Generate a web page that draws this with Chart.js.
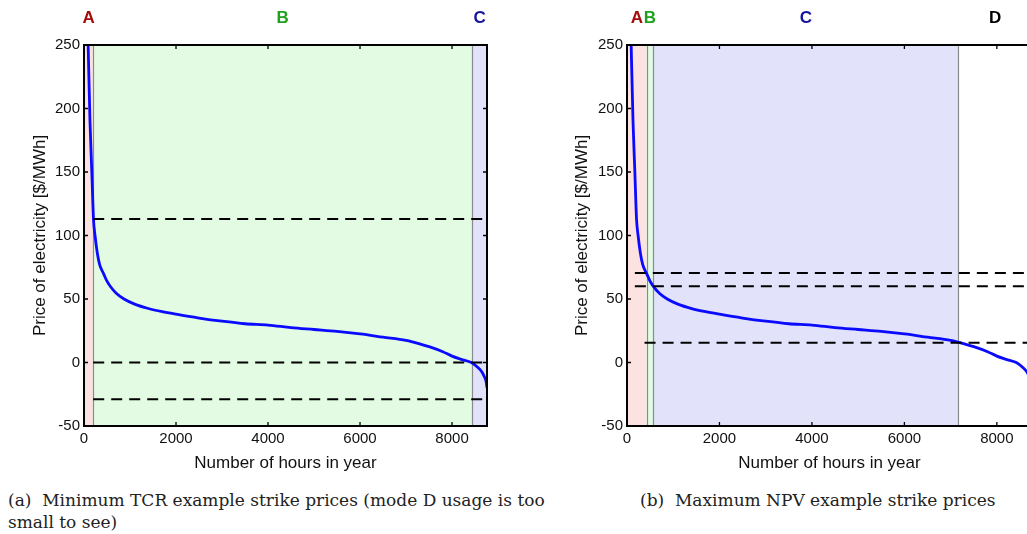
<!DOCTYPE html>
<html>
<head>
<meta charset="utf-8">
<script src="https://cdn.jsdelivr.net/npm/chart.js@4.4.1/dist/chart.umd.min.js"></script>
<style>
  html, body { margin:0; padding:0; background:#fff; }
  body { width:1027px; height:534px; overflow:hidden; position:relative; }
  .wrap { position:absolute; top:0; height:480px; }
  #w1 { left:0; width:520px; }
  #w2 { left:520px; width:520px; }
  .cap { position:absolute; font-family:"DejaVu Serif", serif; font-size:17px; color:#222; line-height:22px; white-space:nowrap; }
</style>
</head>
<body>
<div class="wrap" id="w1"><canvas id="c1"></canvas></div>
<div class="wrap" id="w2"><canvas id="c2"></canvas></div>
<div class="cap" id="capA" style="left:8px; top:489px;">(a)&nbsp; Minimum TCR example strike prices (mode D usage is too<br>small to see)</div>
<div class="cap" id="capB" style="left:640px; top:489px;">(b)&nbsp; Maximum NPV example strike prices</div>
<script>
// ---- Data ----
const hours = [40, 90, 130, 170, 206, 240, 290, 340, 425, 500, 570, 700, 870, 1100, 1400, 1700, 2000, 2500, 3000, 3500, 4000, 4500, 5000, 5500, 6000, 6500, 7000, 7165, 7500, 7800, 8000, 8200, 8420, 8550, 8650, 8700, 8740, 8760];
const price = [320, 250, 190, 150, 113, 100, 86, 77, 70, 64, 60, 54.5, 50, 46, 42.5, 40, 38, 35, 32.5, 30.5, 29.5, 27.5, 26, 24.5, 22.5, 20, 17.5, 16, 12.5, 8.5, 5, 2.5, 0, -3.5, -7.5, -11, -15, -20];

const xTicks = [0, 2000, 4000, 6000, 8000];
const yTicks = [-50, 0, 50, 100, 150, 200, 250];
const xMax = 8760;

// Panel (a): minimum TCR
const modesA = ["A", "B", "C"];
const boundsA = [0, 200, 8435, 8760];
const strikesA = [113, 0, -29];
const strikeStartA = [200, 200, 200];

// Panel (b): maximum NPV
const modesB = ["A", "B", "C", "D"];
const boundsB = [0, 425, 570, 7165, 8760];
const strikesB = [70.5, 60, 15.5];
const strikeStartB = [170, 170, 380];

const modeFill = { A: "#fde2e2", B: "#e2fbe2", C: "#e2e2fa", D: "rgba(255,255,255,0)" };
const modeText = { A: "#a30d0d", B: "#1fa01f", C: "#14149c", D: "#000000" };

const sans = "'Liberation Sans', Arial, sans-serif";

function buildChart(canvasId, modes, bounds, strikes, strikeStart, padLeft, padRight, yWidth) {
  const datasets = [{
    data: hours.map((h, i) => ({ x: h, y: price[i] })),
    borderColor: "#0a0aff", borderWidth: 2.8, pointRadius: 0, showLine: true,
    cubicInterpolationMode: "monotone", order: 2
  }];
  strikes.forEach((s, i) => {
    datasets.push({
      data: [{ x: strikeStart[i], y: s }, { x: xMax, y: s }],
      borderColor: "#000", borderWidth: 2, borderDash: [11, 7], pointRadius: 0, showLine: true, order: 1
    });
  });

  const regionPlugin = {
    id: "regions",
    beforeDatasetsDraw(chart) {
      const { ctx, chartArea: a, scales: { x } } = chart;
      ctx.save();
      modes.forEach((m, i) => {
        const x0 = x.getPixelForValue(bounds[i]), x1 = x.getPixelForValue(bounds[i + 1]);
        ctx.fillStyle = modeFill[m];
        ctx.fillRect(x0, a.top, x1 - x0, a.bottom - a.top);
      });
      ctx.strokeStyle = "#8a8a8a"; ctx.lineWidth = 1.2;
      for (let i = 1; i < bounds.length - 1; i++) {
        const px = Math.round(x.getPixelForValue(bounds[i])) + 0.5;
        ctx.beginPath(); ctx.moveTo(px, a.top); ctx.lineTo(px, a.bottom); ctx.stroke();
      }
      ctx.restore();
    },
    afterDraw(chart) {
      const { ctx, chartArea: a, scales: { x, y } } = chart;
      ctx.save();
      ctx.strokeStyle = "#000"; ctx.lineWidth = 2;
      ctx.strokeRect(a.left, a.top, a.right - a.left, a.bottom - a.top);
      ctx.lineWidth = 1.3;
      xTicks.forEach(v => {
        const px = x.getPixelForValue(v);
        ctx.beginPath(); ctx.moveTo(px, a.bottom); ctx.lineTo(px, a.bottom - 4);
        ctx.moveTo(px, a.top); ctx.lineTo(px, a.top + 4); ctx.stroke();
      });
      yTicks.forEach(v => {
        const py = y.getPixelForValue(v);
        ctx.beginPath(); ctx.moveTo(a.left, py); ctx.lineTo(a.left + 4, py);
        ctx.moveTo(a.right, py); ctx.lineTo(a.right - 4, py); ctx.stroke();
      });
      ctx.font = "bold 17px " + sans;
      ctx.textAlign = "center"; ctx.textBaseline = "middle";
      modes.forEach((m, i) => {
        const cx = (x.getPixelForValue(bounds[i]) + x.getPixelForValue(bounds[i + 1])) / 2;
        ctx.fillStyle = modeText[m];
        ctx.fillText(m, cx, 18);
      });
      ctx.restore();
    }
  };

  return new Chart(document.getElementById(canvasId), {
    type: "scatter",
    data: { datasets },
    plugins: [regionPlugin],
    options: {
      responsive: true, maintainAspectRatio: false, animation: false,
      layout: { padding: { top: 45, left: padLeft, right: padRight, bottom: 6 } },
      plugins: { legend: { display: false }, tooltip: { enabled: false } },
      scales: {
        x: {
          type: "linear", min: 0, max: xMax,
          afterBuildTicks: s => { s.ticks = xTicks.map(v => ({ value: v })); },
          afterFit: s => { s.height = 48; },
          grid: { display: false, drawTicks: false }, border: { display: false },
          ticks: { padding: 4, color: "#111", font: { family: sans, size: 15 }, maxRotation: 0,
                   callback: v => String(v) },
          title: { display: true, text: "Number of hours in year", color: "#111", padding: { top: 0, bottom: 0 },
                   font: { family: sans, size: 17 } }
        },
        y: {
          type: "linear", min: -50, max: 250,
          afterBuildTicks: s => { s.ticks = yTicks.map(v => ({ value: v })); },
          afterFit: s => { s.width = yWidth; },
          grid: { display: false, drawTicks: false }, border: { display: false },
          ticks: { padding: 4, color: "#111", font: { family: sans, size: 15 }, callback: v => String(v) },
          title: { display: true, text: "Price of electricity [$/MWh]", color: "#111", padding: { top: 0, bottom: 0 },
                   font: { family: sans, size: 17 } }
        }
      }
    }
  });
}

buildChart("c1", modesA, boundsA, strikesA, strikeStartA, 30, 33, 54);
buildChart("c2", modesB, boundsB, strikesB, strikeStartB, 52, 8, 55);
</script>
</body>
</html>
